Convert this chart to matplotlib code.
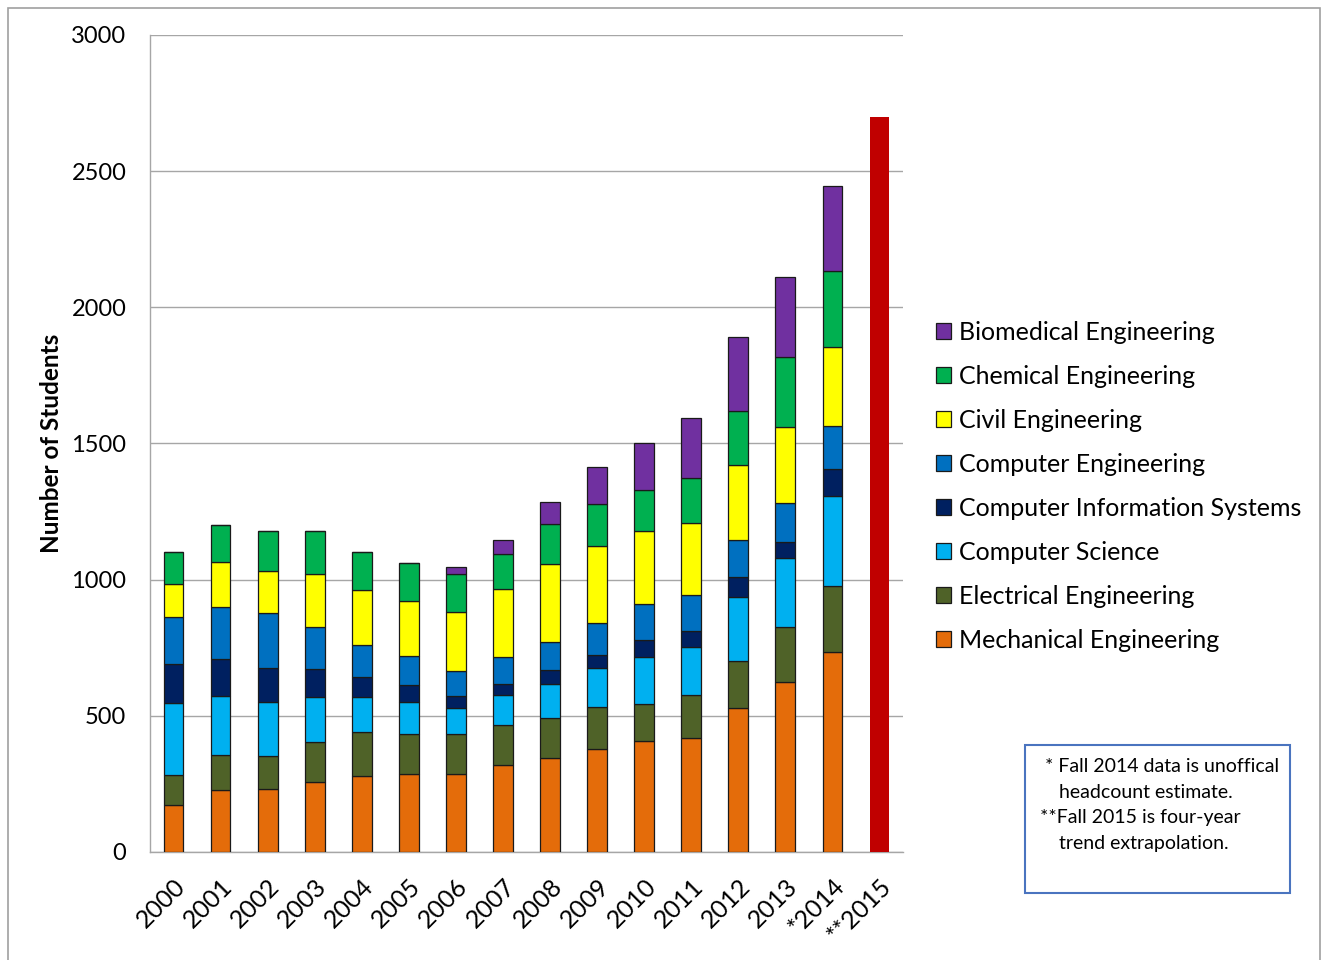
import numpy as np
import matplotlib
matplotlib.use('Agg')
import matplotlib.pyplot as plt
from matplotlib.patches import Rectangle

plt.rcParams['font.family'] = ['Lato', 'DejaVu Sans']

# enrollment by department (students)
years = ['2000', '2001', '2002', '2003', '2004', '2005', '2006', '2007',
         '2008', '2009', '2010', '2011', '2012', '2013', '*2014', '**2015']
mech = [174, 229, 231, 256, 279, 285, 286, 320, 344, 377, 408, 420, 527, 624, 734]
elec = [108, 128, 122, 149, 160, 147, 149, 147, 148, 154, 136, 155, 176, 204, 244]
comp_sci = [265, 215, 198, 165, 131, 119, 92, 111, 126, 144, 172, 176, 235, 250, 330]
comp_info = [142, 136, 125, 103, 73, 62, 44, 38, 49, 50, 61, 60, 72, 62, 97]
comp_eng = [173, 192, 200, 152, 117, 107, 94, 100, 103, 117, 133, 132, 135, 143, 159]
civil = [123, 166, 155, 197, 201, 201, 217, 249, 286, 283, 267, 264, 276, 276, 292]
chem = [118, 135, 149, 156, 140, 142, 137, 128, 148, 153, 153, 167, 198, 260, 278]
biomed = [0, 0, 0, 0, 0, 0, 27, 52, 82, 134, 170, 218, 273, 292, 311]
projection_2015 = 2700

series = [
    ('Mechanical Engineering', mech, '#E46C0A'),
    ('Electrical Engineering', elec, '#4F6228'),
    ('Computer Science', comp_sci, '#00B0F0'),
    ('Computer Information Systems', comp_info, '#002060'),
    ('Computer Engineering', comp_eng, '#0070C0'),
    ('Civil Engineering', civil, '#FFFF00'),
    ('Chemical Engineering', chem, '#00B050'),
    ('Biomedical Engineering', biomed, '#7030A0'),
]

fig = plt.figure(figsize=(13.25, 9.6), dpi=100)
ax = fig.add_axes([150 / 1325, 1 - 852 / 960, 753 / 1325, 817 / 960])

x = np.arange(len(mech))
width = 0.42
bottom = np.zeros(len(mech))
handles = []
for name, vals, color in series:
    vals = np.array(vals, dtype=float)
    b = ax.bar(x, vals, width, bottom=bottom, color=color, edgecolor='#1a1a1a',
               linewidth=0.9, label=name, zorder=3)
    handles.append(b)
    bottom += vals

ax.bar(len(mech), projection_2015, width, color='#C00000', zorder=3)

ax.set_xlim(-0.5, len(years) - 0.5)
ax.set_ylim(0, 3000)
ax.set_yticks(np.arange(0, 3001, 500))
ax.yaxis.grid(True, color='#a6a6a6', linewidth=1, zorder=0)
ax.set_axisbelow(True)
for s in ['top', 'right']:
    ax.spines[s].set_visible(False)
for s in ['left', 'bottom']:
    ax.spines[s].set_color('#a6a6a6')
    ax.spines[s].set_linewidth(1)

ax.set_xticks(np.arange(len(years)))
ax.set_xticklabels(years, rotation=45, ha='right', rotation_mode='anchor', fontsize=18)
ax.tick_params(axis='x', direction='in', length=4, color='#a6a6a6', pad=16)
ax.tick_params(axis='y', length=0, pad=17, labelsize=17)
ax.set_ylabel('Number of Students', fontsize=17.5, fontweight='bold', labelpad=6)

leg = fig.legend(handles[::-1], [s[0] for s in series][::-1], loc='upper left',
                 bbox_to_anchor=(926 / 1325, 1 - 311 / 960), frameon=False,
                 fontsize=18, handlelength=0.58, handleheight=0.58,
                 handletextpad=0.35, labelspacing=0.84, borderaxespad=0)

# note box
fig.patches.append(Rectangle((1025 / 1325, 1 - 893 / 960), 265 / 1325, 148 / 960,
                             transform=fig.transFigure, fill=False,
                             edgecolor='#4a74bf', linewidth=1.5))
note = [(1045, 766, '* Fall 2014 data is unoffical'),
        (1059, 792, 'headcount estimate.'),
        (1040, 818, '**Fall 2015 is four-year'),
        (1059, 844, 'trend extrapolation.')]
for px, py, t in note:
    fig.text(px / 1325, 1 - py / 960, t, fontsize=14, va='center', ha='left')

# outer chart border
fig.patches.append(Rectangle((8 / 1325, -0.1), 1312 / 1325, 1.1 - 8 / 960,
                             transform=fig.transFigure, fill=False,
                             edgecolor='#a0a0a0', linewidth=1.2))

fig.savefig('out.png', dpi=100)
